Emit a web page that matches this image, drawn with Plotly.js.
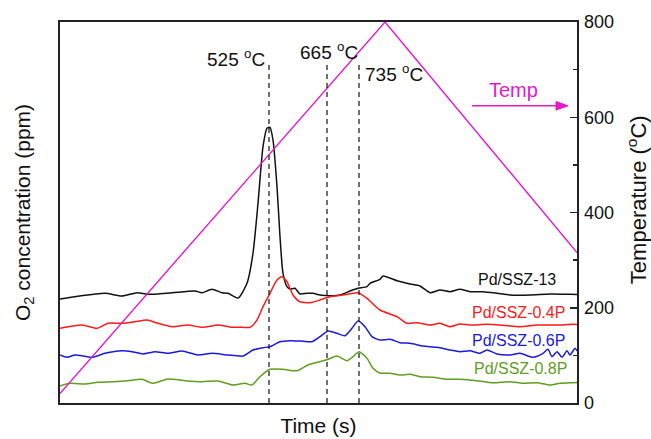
<!DOCTYPE html>
<html>
<head>
<meta charset="utf-8">
<script src="https://cdn.plot.ly/plotly-3.0.1.min.js"></script>
<style>html,body{margin:0;padding:0;background:#fff;}#chart{width:651px;height:439px;}</style>
</head>
<body>
<div id="chart"></div>
<script>
// Time axis (arbitrary units, no tick labels in the original)
const tempTime = [0, 325, 517];
const tempValues = [20, 800, 316];

const blackTime = [0,15,45,62,77,88,112,135,142,152,162,168,178,187,193,198,203,207,210,213,217,220,223,227,230,235,240,247,253,260,270,280,290,298,307,310,320,323,337,350,360,370,380,390,400,410,423,437,450,470,490,510,517];
const blackO2 = [104,106.3,109.7,107,110.3,108.7,110.3,112,110.3,113.7,110.3,109.7,105,119.7,149.7,199.7,256.3,274.7,275.7,263,216.3,166.3,129.7,116.3,114,114.7,109,109.7,109.7,108,107.3,108,112,114.7,116.3,119.7,123.7,127,122.3,119,117,110.3,113,111.3,113.7,111.3,111.3,109.7,108,108,109,108.7,108.5];

const redTime = [0,8,22,37,48,62,75,87,98,112,128,142,158,172,182,190,197,203,210,217,222,227,233,240,250,260,270,283,298,307,320,337,347,357,370,380,390,400,410,427,443,460,477,497,513,517];
const redO2 = [74.7,76.3,78,74.7,79.7,79.7,81.3,83,79.7,76.3,78,75.7,78,75.7,75.7,75.7,83,96.3,109.7,123,126.3,121.3,108,101.3,100.3,103,106.3,108,110.3,104.7,93,86.3,79.7,80.3,78,79.7,76.3,79,78,78.7,77.7,76.3,78,78,78.7,78.5];

const blueTime = [0,7,15,32,45,62,72,83,95,108,122,138,152,168,183,193,203,210,220,230,240,252,260,268,277,285,292,298,305,312,320,330,340,350,363,377,390,400,410,420,427,437,450,460,473,483,488,492,497,502,507,510,515,517];
const blueO2 = [48,45.7,48,45.7,49.7,52.3,51.3,49,51.3,49.7,52,48,49.7,48,47,53,55.3,56.3,61.3,62.3,62,61.3,66.3,72,69.7,67.3,74.7,82,76.3,66.3,63,63.7,60.3,59.7,57,55.7,53,51.3,52.3,49.7,53,49,48,49.7,45.7,49.7,53.7,46.3,51.3,45.7,52.3,48,54.7,52];

const greenTime = [0,10,25,38,53,68,82,93,108,125,142,158,173,185,192,200,210,223,237,248,260,268,277,287,293,299,307,313,320,330,340,350,360,373,387,400,417,433,450,463,477,490,500,513,517];
const greenO2 = [17,19.7,19,20.7,21.3,22.3,23.7,19.7,24,22.3,21.3,22,18,19.7,18,26.3,33.7,33.7,32.3,38,41.3,43.7,47,42.3,46.3,51.3,44.7,34.7,30,29.7,28,28.7,26.3,25.7,23.7,23.7,22.3,20.3,21.3,19.7,20.3,18,19.7,20.3,20.5];

const seriesNames = ['Pd/SSZ-13', 'Pd/SSZ-0.4P', 'Pd/SSZ-0.6P', 'Pd/SSZ-0.8P'];
const seriesColors = ['#111111', '#ff1a1a', '#1a1adf', '#5f9e1f'];
const labelTime = [457, 458, 458, 460];
const labelO2 = [124, 91, 63, 35];

const markerTimes = [209, 267, 299];
const markerTemps = ['525', '665', '735'];
const markerTop = 710;

const tempColor = '#e619c8';
const FONT = 'Liberation Sans, Arial, sans-serif';

const traces = [];
const series = [[blackTime, blackO2], [redTime, redO2], [blueTime, blueO2], [greenTime, greenO2]];
series.forEach((s, i) => {
  traces.push({x: s[0], y: s[1], type: 'scatter', mode: 'lines', name: seriesNames[i],
    line: {color: seriesColors[i], width: 1.5, shape: 'spline', smoothing: 0.6}, yaxis: 'y', hoverinfo: 'skip'});
});
traces.push({x: tempTime, y: tempValues, type: 'scatter', mode: 'lines', name: 'Temp',
  line: {color: tempColor, width: 1.4}, yaxis: 'y2', hoverinfo: 'skip'});

const dx = [], dy = [];
markerTimes.forEach(t => { dx.push(t, t, null); dy.push(0, markerTop, null); });
traces.push({x: dx, y: dy, type: 'scatter', mode: 'lines', yaxis: 'y2',
  line: {color: '#111', width: 1.2, dash: '5px,4px'}, hoverinfo: 'skip'});

const annotations = [];
seriesNames.forEach((n, i) => {
  annotations.push({x: labelTime[i], y: labelO2[i], xref: 'x', yref: 'y', text: n, showarrow: false,
    font: {family: FONT, size: 16, color: seriesColors[i]}, xanchor: 'center', yanchor: 'middle'});
});
annotations.push({x: 207, y: 724, xref: 'x', yref: 'y2', text: markerTemps[0] + ' <sup>o</sup>C', showarrow: false,
  font: {family: FONT, size: 19, color: '#111'}, xanchor: 'right', yanchor: 'middle'});
annotations.push({x: 269, y: 740, xref: 'x', yref: 'y2', text: markerTemps[1] + ' <sup>o</sup>C', showarrow: false,
  font: {family: FONT, size: 19, color: '#111'}, xanchor: 'center', yanchor: 'middle'});
annotations.push({x: 303, y: 693, xref: 'x', yref: 'y2', text: markerTemps[2] + ' <sup>o</sup>C', showarrow: false,
  font: {family: FONT, size: 19, color: '#111'}, xanchor: 'left', yanchor: 'middle'});
annotations.push({x: 453, y: 657, xref: 'x', yref: 'y2', text: 'Temp', showarrow: false,
  font: {family: FONT, size: 20, color: tempColor}, xanchor: 'center', yanchor: 'middle'});
annotations.push({x: 1.116, y: 0.535, xref: 'paper', yref: 'paper', text: 'Temperature (<sup>o</sup>C)', showarrow: false,
  textangle: -90, font: {family: FONT, size: 22, color: '#111'}, xanchor: 'center', yanchor: 'middle'});

const shapes = [
  {type: 'line', xref: 'x', yref: 'y2', x0: 412, x1: 500, y0: 624, y1: 624, line: {color: tempColor, width: 1.5}},
  {type: 'path', xref: 'x', yref: 'y2', path: 'M 496 633 L 508 624 L 496 615 Z', fillcolor: tempColor, line: {color: tempColor, width: 1}}
];

const layout = {
  width: 651, height: 439,
  margin: {l: 60, r: 74, t: 22, b: 36, pad: 0},
  paper_bgcolor: '#fff', plot_bgcolor: '#fff',
  showlegend: false,
  font: {family: FONT, color: '#111'},
  xaxis: {range: [0, 517], showgrid: false, zeroline: false, showticklabels: false, ticks: '',
    showline: true, mirror: true, linecolor: '#222', linewidth: 1.6,
    title: {text: 'Time (s)', font: {family: FONT, size: 21, color: '#111'}, standoff: 14}},
  yaxis: {range: [0, 381], showgrid: false, zeroline: false, showticklabels: false, ticks: '',
    showline: true, mirror: true, linecolor: '#222', linewidth: 1.6,
    title: {text: 'O<sub>2</sub> concentration (ppm)', font: {family: FONT, size: 21, color: '#111'}, standoff: 22}},
  yaxis2: {range: [0, 800], overlaying: 'y', side: 'right', showgrid: false, zeroline: false,
    tickvals: [0, 200, 400, 600, 800], ticks: 'inside', ticklen: 7, tickwidth: 1.5, tickcolor: '#222',
    minor: {ticks: 'inside', ticklen: 4, tickwidth: 1.5, tickcolor: '#222', tickvals: [100, 300, 500, 700]},
    ticklabelstandoff: 6,
    tickfont: {family: FONT, size: 18, color: '#111'}, showline: false},
  annotations: annotations,
  shapes: shapes
};

Plotly.newPlot('chart', traces, layout, {displayModeBar: false, staticPlot: true});
</script>
</body>
</html>
